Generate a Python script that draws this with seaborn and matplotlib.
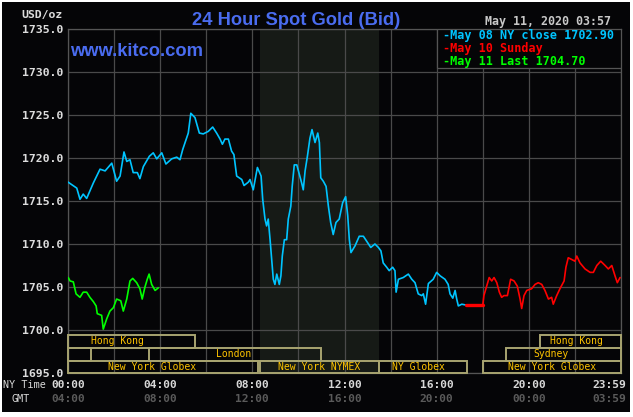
import matplotlib
matplotlib.use("Agg")
import matplotlib.pyplot as plt
import seaborn as sns
from matplotlib.patches import Rectangle
from matplotlib.transforms import blended_transform_factory

# ---------------- data ----------------
may08_hours = [0.00, 0.38, 0.52, 0.66, 0.81, 1.10, 1.39, 1.61, 1.90, 2.11, 2.26, 2.43, 2.55, 2.69,
               2.83, 3.01, 3.12, 3.27, 3.53, 3.70, 3.85, 4.07, 4.25, 4.50, 4.72, 4.86, 4.98, 5.12,
               5.22, 5.33, 5.51, 5.70, 5.87, 6.09, 6.28, 6.45, 6.60, 6.70, 6.81, 6.96, 7.10, 7.20,
               7.32, 7.54, 7.64, 7.83, 7.90, 8.04, 8.22, 8.38, 8.45, 8.55, 8.62, 8.69, 8.77, 8.84,
               8.91, 8.98, 9.06, 9.17, 9.24, 9.30, 9.39, 9.49, 9.56, 9.67, 9.73, 9.82, 9.93, 10.04,
               10.14, 10.21, 10.29, 10.39, 10.50, 10.59, 10.72, 10.84, 10.91, 10.97, 11.08, 11.20,
               11.30, 11.40, 11.51, 11.63, 11.77, 11.92, 12.05, 12.14, 12.21, 12.28, 12.46, 12.64,
               12.82, 12.99, 13.14, 13.32, 13.47, 13.58, 13.68, 13.83, 13.94, 14.09, 14.19, 14.24,
               14.34, 14.55, 14.77, 14.92, 15.06, 15.20, 15.35, 15.42, 15.52, 15.64, 15.85, 16.00,
               16.15, 16.36, 16.50, 16.58, 16.70, 16.80, 16.87, 16.94, 17.09, 17.27]
may08_price = [1717.2, 1716.5, 1715.2, 1715.8, 1715.3, 1717.1, 1718.7, 1718.5, 1719.4, 1717.3, 1717.9,
               1720.7, 1719.6, 1719.8, 1718.3, 1718.3, 1717.6, 1719.0, 1720.2, 1720.6, 1719.9, 1720.6,
               1719.3, 1719.9, 1720.1, 1719.8, 1721.0, 1722.1, 1722.9, 1725.2, 1724.7, 1722.9, 1722.8,
               1723.1, 1723.6, 1722.9, 1722.2, 1721.6, 1722.2, 1722.2, 1720.8, 1720.4, 1717.9, 1717.5,
               1716.8, 1717.2, 1717.5, 1716.3, 1718.9, 1717.9, 1715.2, 1712.9, 1712.1, 1712.9, 1710.5,
               1708.2, 1705.9, 1705.3, 1706.5, 1705.3, 1706.3, 1708.6, 1710.5, 1710.5, 1712.9, 1714.4,
               1716.7, 1719.2, 1719.2, 1718.1, 1717.1, 1716.3, 1718.5, 1720.2, 1722.3, 1723.3, 1721.8,
               1722.9, 1721.8, 1717.7, 1717.3, 1716.7, 1714.4, 1712.5, 1711.1, 1712.5, 1712.9, 1714.8,
               1715.5, 1713.3, 1710.5, 1709.0, 1709.8, 1710.9, 1710.9, 1710.2, 1709.6, 1710.0, 1709.6,
               1709.2, 1707.8, 1707.3, 1706.9, 1707.3, 1706.9, 1704.4, 1705.9, 1706.1, 1706.5, 1705.9,
               1705.5, 1704.2, 1704.0, 1704.2, 1703.0, 1705.4, 1705.9, 1706.7, 1706.3, 1705.9, 1705.3,
               1704.2, 1703.7, 1704.6, 1703.6, 1702.8, 1703.0, 1702.9]

close_hours = [17.27, 18.00]
close_price = [1702.9, 1702.9]

may10_hours = [18.00, 18.05, 18.17, 18.28, 18.39, 18.49, 18.61, 18.72, 18.82, 18.92, 19.07, 19.21,
               19.36, 19.50, 19.62, 19.69, 19.79, 19.91, 20.12, 20.27, 20.41, 20.56, 20.70, 20.85,
               20.99, 21.06, 21.21, 21.35, 21.53, 21.61, 21.71, 21.86, 22.00, 22.08, 22.22, 22.44,
               22.66, 22.80, 22.95, 23.12, 23.31, 23.45, 23.60, 23.74, 23.84, 23.96]
may10_price = [1702.9, 1704.0, 1705.1, 1706.1, 1705.7, 1706.1, 1705.5, 1704.4, 1703.8, 1704.0, 1704.0,
               1705.9, 1705.7, 1705.1, 1703.6, 1702.5, 1704.0, 1704.6, 1704.8, 1705.3, 1705.5, 1705.3,
               1704.6, 1703.6, 1703.8, 1703.0, 1704.0, 1704.8, 1705.7, 1707.3, 1708.4, 1708.2, 1708.0,
               1708.6, 1707.8, 1707.1, 1706.7, 1706.7, 1707.5, 1708.0, 1707.5, 1707.1, 1707.5, 1706.3,
               1705.5, 1706.1]

may11_hours = [0.01, 0.09, 0.23, 0.35, 0.52, 0.66, 0.81, 0.95, 1.10, 1.22, 1.27, 1.46, 1.53, 1.68,
               1.82, 1.97, 2.11, 2.29, 2.40, 2.55, 2.69, 2.81, 2.98, 3.12, 3.22, 3.34, 3.44, 3.52,
               3.63, 3.78, 3.92]
may11_price = [1706.1, 1705.7, 1705.6, 1704.2, 1703.8, 1704.4, 1704.4, 1703.8, 1703.3, 1702.8, 1701.9,
               1701.7, 1700.1, 1701.3, 1702.2, 1702.6, 1703.6, 1703.4, 1702.2, 1703.6, 1705.7, 1706.0,
               1705.5, 1704.8, 1703.6, 1705.0, 1705.9, 1706.5, 1705.3, 1704.6, 1704.9]

y_ticks = [1695, 1700, 1705, 1710, 1715, 1720, 1725, 1730, 1735]
ny_time_labels = ["00:00", "04:00", "08:00", "12:00", "16:00", "20:00", "23:59"]
gmt_labels = ["04:00", "08:00", "12:00", "16:00", "20:00", "00:00", "03:59"]
time_label_hours = [0, 4, 8, 12, 16, 20, 23.48]

session_names = ["Hong Kong", "Hong Kong", "", "London", "Sydney",
                 "New York Globex", "New York NYMEX", "NY Globex", "New York Globex"]
session_start = [0.0, 20.5, 0.0, 3.5, 19.0, 0.0, 8.33, 13.5, 18.0]
session_end = [5.5, 24.0, 0.98, 11.0, 24.0, 8.25, 13.5, 17.33, 24.0]
session_row = [0, 0, 1, 1, 1, 2, 2, 2, 2]
session_label_hour = [2.13, 22.05, 0.5, 7.18, 20.96, 3.65, 10.91, 15.2, 21.0]

comex_start, comex_end = 8.33, 13.5

legend_lines = ["-May 08 NY close 1702.90", "-May 10 Sunday", "-May 11 Last 1704.70"]
date_text = "May 11, 2020 03:57"

# ---------------- style ----------------
sns.set_theme(style="dark")
plt.rcParams["font.family"] = ["DejaVu Sans Mono"]

BG = "#050507"
CYAN = "#00C4FF"
RED = "#FF0000"
GREEN = "#00FF00"
GRID = "#4a4a4a"
BOX = "#A8A470"
GOLD = "#FFC400"
BLUE = "#4A6CF0"

W, H = 633, 417
fig = plt.figure(figsize=(W / 100, H / 100), dpi=100, facecolor="white")
fig.patches.append(Rectangle((2 / W, 5 / H), 628 / W, 410 / H, transform=fig.transFigure,
                             facecolor=BG, edgecolor="none", zorder=-10))

ax = fig.add_axes([68 / W, 44 / H, 553 / W, 344 / H])
ax.set_facecolor(BG)
ax.set_xlim(0, 24)
ax.set_ylim(1695, 1735)

ax.axvspan(comex_start, comex_end, color="#161a16", zorder=0.1, lw=0)

ax.set_xticks(range(0, 25, 2))
ax.set_xticklabels([])
ax.set_yticks(y_ticks)
ax.set_yticklabels([f"{v:.1f}" for v in y_ticks])
ax.grid(True, color=GRID, lw=0.9)
ax.set_axisbelow(True)
ax.tick_params(axis="both", length=0)
ax.tick_params(axis="y", labelcolor="#DDDDDD", labelsize=8.25, pad=3.6)
for lab in ax.get_yticklabels():
    lab.set_fontweight("bold")
for sp in ax.spines.values():
    sp.set_color("#555555")
    sp.set_linewidth(0.9)

sns.lineplot(x=may08_hours, y=may08_price, color=CYAN, lw=1.2, ax=ax, estimator=None, sort=False, zorder=4)
sns.lineplot(x=close_hours, y=close_price, color=RED, lw=2.4, ax=ax, estimator=None, sort=False, zorder=4)
sns.lineplot(x=may10_hours, y=may10_price, color=RED, lw=1.2, ax=ax, estimator=None, sort=False, zorder=4)
sns.lineplot(x=may11_hours, y=may11_price, color=GREEN, lw=1.2, ax=ax, estimator=None, sort=False, zorder=4)
ax.set_xlabel("")
ax.set_ylabel("")

# session bars
row_bottom = [1697.95, 1696.45, 1695.0]
row_height = [1.5, 1.5, 1.45]
for name, s, e, r, lh in zip(session_names, session_start, session_end, session_row, session_label_hour):
    ax.add_patch(Rectangle((s, row_bottom[r]), e - s, row_height[r], facecolor="none",
                           edgecolor=BOX, lw=1.4, zorder=3, clip_on=False))
    if name:
        ax.text(lh, row_bottom[r] + row_height[r] / 2, name, color=GOLD, fontsize=7,
                ha="center", va="center", zorder=5)

# legend box
ax.add_patch(Rectangle((16.0, 1730.45), 8.0, 4.55, facecolor=BG, edgecolor="#555555", lw=0.9, zorder=3))
for txt, col, yp in zip(legend_lines, [CYAN, RED, GREEN], [36, 48.5, 61]):
    fig.text(443 / W, 1 - yp / H, txt, color=col, fontsize=8.5, fontweight="bold",
             ha="left", va="center")

# x labels
tr = blended_transform_factory(ax.transData, ax.transAxes)
for h, ny, gmt in zip(time_label_hours, ny_time_labels, gmt_labels):
    ax.text(h, -0.035, ny, transform=tr, color="#D8D8D8", fontsize=8.1, fontweight="bold",
            ha="center", va="center", clip_on=False)
    ax.text(h, -0.076, gmt, transform=tr, color="#5a5a5a", fontsize=8.1, fontweight="bold",
            ha="center", va="center", clip_on=False)
fig.text(46 / W, 1 - 385 / H, "NY Time", color="#D8D8D8", fontsize=7.3, ha="right", va="center")
fig.text(30 / W, 1 - 399 / H, "GMT", color="#D8D8D8", fontsize=7.3, ha="right", va="center")

# header texts
fig.text(63 / W, 1 - 15 / H, "USD/oz", color="#DDDDDD", fontsize=8.25, fontweight="bold",
         ha="right", va="center")
fig.text(296 / W, 1 - 25 / H, "24 Hour Spot Gold (Bid)", color=BLUE, fontsize=13.2,
         fontweight="bold", family="Liberation Sans", ha="center", va="baseline")
fig.text(70 / W, 1 - 56 / H, "www.kitco.com", color=BLUE, fontsize=13.2,
         fontweight="bold", family="Liberation Sans", ha="left", va="baseline")
fig.text(611 / W, 1 - 22 / H, date_text, color="#C8C8C8", fontsize=8.4, fontweight="bold",
         ha="right", va="center")

fig.savefig("out.png", dpi=100, facecolor="white")
